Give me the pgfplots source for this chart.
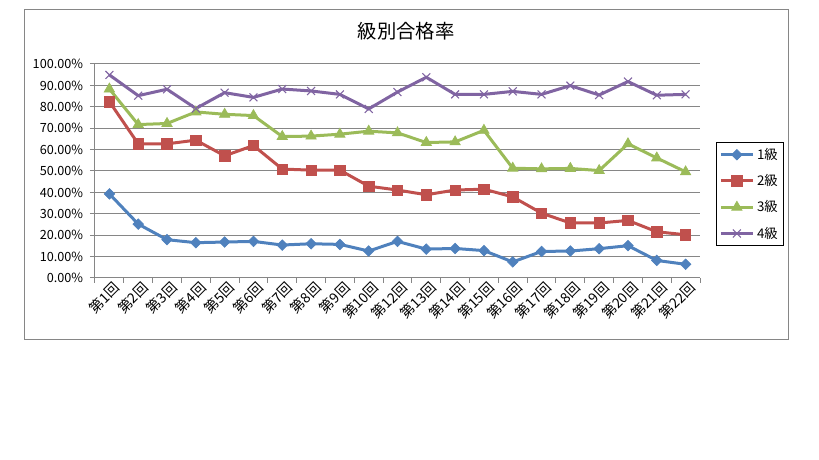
\documentclass[border=0pt]{standalone}
\usepackage{fontspec}
\setmainfont{Noto Sans CJK JP}
\usepackage{pgfplots}
\pgfplotsset{compat=1.18}
\definecolor{c1}{HTML}{4F81BD}
\definecolor{c2}{HTML}{C0504D}
\definecolor{c3}{HTML}{9BBB59}
\definecolor{c4}{HTML}{8064A2}
\definecolor{gridc}{HTML}{868686}
\begin{document}
\begin{tikzpicture}
\path (0,0) rectangle (614.25pt,345pt);
\draw[gridc, line width=0.75pt] (18pt,90pt) rectangle (591pt,337.5pt);
\node at (304.5pt,321.75pt) {\fontsize{14.5}{17}\selectfont 級別合格率};
\begin{axis}[
  at={(71.25pt,136.5pt)}, anchor=south west,
  scale only axis, width=453.75pt, height=160.5pt,
  xmin=-0.5, xmax=20.5, ymin=0, ymax=100,
  axis x line=bottom, axis y line=left,
  axis line style={gridc, line width=0.75pt, -},
  tick align=outside,
  xtick={0,...,20},
  xticklabels={第1回,第2回,第3回,第4回,第5回,第6回,第7回,第8回,第9回,第10回,第12回,第13回,第14回,第15回,第16回,第17回,第18回,第19回,第20回,第21回,第22回},
  major x tick style={draw=none},
  minor xtick={-0.5,0.5,...,20.5},
  minor x tick style={gridc, line width=0.75pt},
  minor tick length=3.75pt,
  major tick length=3.75pt,
  ytick={0,10,...,100},
  yticklabels={0.00\%,10.00\%,20.00\%,30.00\%,40.00\%,50.00\%,60.00\%,70.00\%,80.00\%,90.00\%,100.00\%},
  y tick style={gridc, line width=0.75pt},
  ymajorgrids, grid style={gridc, line width=0.75pt},
  /pgf/number format/assume math mode=true,
  yticklabel style={font=\fontsize{9.5}{11}\selectfont, inner sep=2pt, xshift=-3pt},
  xticklabel style={font=\fontsize{10.5}{11}\selectfont, rotate=45, anchor=east, inner sep=1pt, yshift=-5pt, xshift=4pt},
  legend style={at={(1.0264,0.6355)}, anchor=north west, draw=black, line width=0.75pt,
    font=\fontsize{10}{12}\selectfont, row sep=5.8pt, inner sep=2.2pt},
  legend cell align=left,
  legend image code/.code={\draw[mark repeat=2,mark phase=2] plot coordinates {(0pt,0pt) (12pt,0pt) (24pt,0pt)};},
  every axis plot/.append style={line width=2.25pt},
  clip=false,
]
\addplot[c1, mark=square*, mark size=2.8pt, mark options={solid, rotate=45, line width=0.5pt, fill=c1}] coordinates {
(0,39.3)(1,25.2)(2,17.9)(3,16.5)(4,16.8)(5,17.1)(6,15.4)(7,16.0)(8,15.7)(9,12.6)
(10,17.1)(11,13.5)(12,13.8)(13,12.8)(14,7.5)(15,12.4)(16,12.6)(17,13.7)(18,15.1)(19,8.2)(20,6.4)};
\addlegendentry{1級}
\addplot[c2, mark=square*, mark size=3.9pt, mark options={solid, line width=0.5pt, fill=c2}] coordinates {
(0,82.4)(1,62.7)(2,62.7)(3,64.4)(4,57.1)(5,61.9)(6,50.9)(7,50.4)(8,50.4)(9,42.9)
(10,41.1)(11,38.9)(12,41.1)(13,41.5)(14,37.9)(15,30.3)(16,25.7)(17,25.7)(18,26.9)(19,21.6)(20,20.2)};
\addlegendentry{2級}
\addplot[c3, mark=triangle*, mark size=4.5pt, mark options={solid, line width=0.5pt, fill=c3}] coordinates {
(0,88.3)(1,71.7)(2,72.2)(3,77.6)(4,76.5)(5,75.9)(6,66.1)(7,66.3)(8,67.2)(9,68.6)
(10,67.8)(11,63.3)(12,63.6)(13,69.0)(14,51.3)(15,51.0)(16,51.2)(17,50.2)(18,62.7)(19,56.1)(20,49.6)};
\addlegendentry{3級}
\addplot[c4, mark=x, mark size=4.2pt, mark options={solid, line width=0.8pt}] coordinates {
(0,94.9)(1,85.2)(2,88.2)(3,79.2)(4,86.6)(5,84.4)(6,88.3)(7,87.4)(8,85.8)(9,79.0)
(10,86.9)(11,93.8)(12,85.8)(13,85.8)(14,87.2)(15,85.8)(16,89.9)(17,85.5)(18,91.8)(19,85.4)(20,85.8)};
\addlegendentry{4級}
\end{axis}
\end{tikzpicture}
\end{document}
